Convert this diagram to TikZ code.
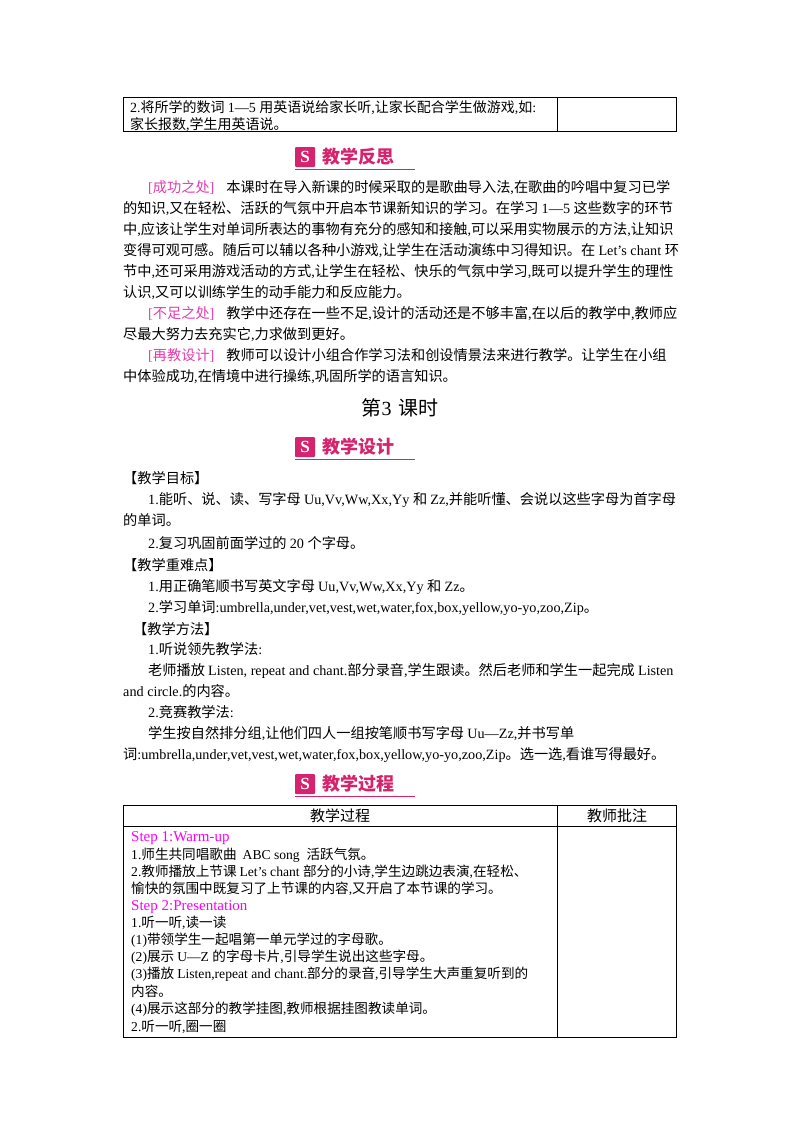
\documentclass[tikz,border=0pt]{standalone}
\usepackage{fontspec}
\setmainfont{Liberation Serif}
\newfontfamily\cjkf{Noto Sans CJK SC}
\newfontfamily\latf{Liberation Serif}
\XeTeXinterchartokenstate=1
\newXeTeXintercharclass\Ccls
\count255="4E00
\loop\XeTeXcharclass\count255=\Ccls\ifnum\count255<"9FFF\advance\count255 by 1\repeat
\count255="3000
\loop\XeTeXcharclass\count255=\Ccls\ifnum\count255<"303F\advance\count255 by 1\repeat
\count255="FF00
\loop\XeTeXcharclass\count255=\Ccls\ifnum\count255<"FFEF\advance\count255 by 1\repeat
\XeTeXinterchartoks 0 \Ccls={\cjkf}
\XeTeXinterchartoks 4095 \Ccls={\cjkf}
\XeTeXinterchartoks \Ccls 0={\latf}
\XeTeXinterchartoks 4095 0={\latf}
\definecolor{brk}{RGB}{228,60,170}
\definecolor{stp}{RGB}{250,0,250}
\definecolor{badge}{RGB}{214,35,110}
\tikzset{
 txt/.style={anchor=base west,inner sep=0pt,font=\fontsize{14.2}{17}\selectfont},
 ttxt/.style={anchor=base west,inner sep=0pt,font=\fontsize{13.6}{16}\selectfont},
 stxt/.style={anchor=base west,inner sep=0pt,font=\fontsize{15}{17}\selectfont,text=stp},
 frame/.style={draw=black,line width=0.8pt},
 head/.style={anchor=west,inner sep=0pt,font=\fontsize{18}{19}\selectfont\bfseries,text=badge},
}
\newcommand{\badge}[3]{%
 \fill[badge,rounded corners=1pt] (295,#2-10) rectangle (315,#2+10);
 \node[inner sep=0pt,text=white,font=\fontsize{17}{17}\selectfont\bfseries] (#3s) at (305,#2) {S};
 \node[head] (#3) at (322,#2) {#1};
 \draw[badge,line width=0.6pt] (295,#2+12) -- (415,#2+12);
}
\begin{document}
\begin{tikzpicture}[x=1pt,y=-1pt]
\useasboundingbox[fill=white] (0,0) rectangle (800,1132);
% top table
\draw[frame] (123,97) rectangle (676,131);
\draw[frame] (557,97) -- (557,131);
\node[ttxt,font=\fontsize{14}{16}\selectfont] (t1) at (130,112) {2.将所学的数词 1—5 用英语说给家长听,让家长配合学生做游戏,如:};
\node[ttxt,font=\fontsize{14}{16}\selectfont] (t2) at (130,129) {家长报数,学生用英语说。};
\badge{教学反思}{157}{h1}
\node[txt] (p1) at (148,192) {\textcolor{brk}{[成功之处]}\hspace{12pt}本课时在导入新课的时候采取的是歌曲导入法,在歌曲的吟唱中复习已学};
\node[txt] (p2) at (123,213) {的知识,又在轻松、活跃的气氛中开启本节课新知识的学习。在学习 1—5 这些数字的环节};
\node[txt] (p3) at (123,234) {中,应该让学生对单词所表达的事物有充分的感知和接触,可以采用实物展示的方法,让知识};
\node[txt] (p4) at (123,255) {变得可观可感。随后可以辅以各种小游戏,让学生在活动演练中习得知识。在 Let’s chant 环};
\node[txt] (p5) at (123,276) {节中,还可采用游戏活动的方式,让学生在轻松、快乐的气氛中学习,既可以提升学生的理性};
\node[txt] (p6) at (123,297) {认识,又可以训练学生的动手能力和反应能力。};
\node[txt] (p7) at (148,318) {\textcolor{brk}{[不足之处]}\hspace{12pt}教学中还存在一些不足,设计的活动还是不够丰富,在以后的教学中,教师应};
\node[txt] (p8) at (123,339) {尽最大努力去充实它,力求做到更好。};
\node[txt] (p9) at (148,360) {\textcolor{brk}{[再教设计]}\hspace{12pt}教师可以设计小组合作学习法和创设情景法来进行教学。让学生在小组};
\node[txt] (p10) at (123,381) {中体验成功,在情境中进行操练,巩固所学的语言知识。};
\node[anchor=base,inner sep=0pt,font=\fontsize{20}{22}\selectfont] (title) at (400,415) {第3\hspace{7pt}课时};
\badge{教学设计}{447}{h2}
\node[txt] (o1) at (123,483) {【教学目标】};
\node[txt] (o2) at (148,504) {1.能听、说、读、写字母 Uu,Vv,Ww,Xx,Yy 和 Zz,并能听懂、会说以这些字母为首字母};
\node[txt] (o3) at (123,525) {的单词。};
\node[txt] (o4) at (148,548) {2.复习巩固前面学过的 20 个字母。};
\node[txt] (o5) at (123,570) {【教学重难点】};
\node[txt] (o6) at (148,591) {1.用正确笔顺书写英文字母 Uu,Vv,Ww,Xx,Yy 和 Zz。};
\node[txt] (o7) at (148,612) {2.学习单词:umbrella,under,vet,vest,wet,water,fox,box,yellow,yo-yo,zoo,Zip。};
\node[txt] (o8) at (133,634) {【教学方法】};
\node[txt] (o9) at (148,654) {1.听说领先教学法:};
\node[txt] (o10) at (148,675) {老师播放 Listen, repeat and chant.部分录音,学生跟读。然后老师和学生一起完成 Listen};
\node[txt] (o11) at (123,696) {and circle.的内容。};
\node[txt] (o12) at (148,717) {2.竞赛教学法:};
\node[txt] (o13) at (148,738) {学生按自然排分组,让他们四人一组按笔顺书写字母 Uu—Zz,并书写单};
\node[txt] (o14) at (123,759) {词:umbrella,under,vet,vest,wet,water,fox,box,yellow,yo-yo,zoo,Zip。选一选,看谁写得最好。};
\badge{教学过程}{784}{h3}
% process table
\draw[frame] (123,805) rectangle (676,1037);
\draw[frame] (123,826) -- (676,826);
\draw[frame] (557,805) -- (557,1037);
\node[anchor=base,inner sep=0pt,font=\fontsize{15}{17}\selectfont] (c1) at (340,821) {教学过程};
\node[anchor=base,inner sep=0pt,font=\fontsize{15}{17}\selectfont] (c2) at (617,821) {教师批注};
\node[stxt] (s1) at (131,841) {Step 1:Warm-up};
\node[ttxt] (r1) at (131,859) {1.师生共同唱歌曲 \ ABC song \ 活跃气氛。};
\node[ttxt] (r2) at (131,876) {2.教师播放上节课 Let’s chant 部分的小诗,学生边跳边表演,在轻松、};
\node[ttxt] (r3) at (131,893) {愉快的氛围中既复习了上节课的内容,又开启了本节课的学习。};
\node[stxt] (s2) at (131,910) {Step 2:Presentation};
\node[ttxt] (r4) at (131,927) {1.听一听,读一读};
\node[ttxt] (r5) at (131,944) {(1)带领学生一起唱第一单元学过的字母歌。};
\node[ttxt] (r6) at (131,961) {(2)展示 U—Z 的字母卡片,引导学生说出这些字母。};
\node[ttxt] (r7) at (131,978) {(3)播放 Listen,repeat and chant.部分的录音,引导学生大声重复听到的};
\node[ttxt] (r8) at (131,996) {内容。};
\node[ttxt] (r9) at (131,1013) {(4)展示这部分的教学挂图,教师根据挂图教读单词。};
\node[ttxt] (r10) at (131,1031) {2.听一听,圈一圈};
\end{tikzpicture}
\end{document}
